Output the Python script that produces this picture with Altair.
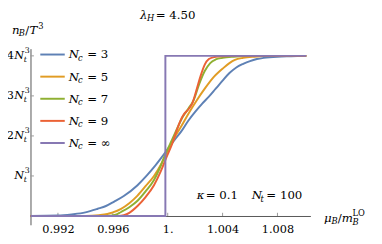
import altair as alt
import pandas as pd

# ---------------- data ----------------
x_nc3 = [0.9900, 0.9920, 0.9930, 0.9940, 0.9949, 0.9955, 0.9961, 0.9968, 0.9978, 0.9985,
         0.9990, 0.9995, 1.0000, 1.0005, 1.0010, 1.0015, 1.0020, 1.0025, 1.0030, 1.0035,
         1.0040, 1.0045, 1.0050, 1.0055, 1.0060, 1.0065, 1.0070, 1.0080, 1.0090, 1.0101]
y_nc3 = [0.00, 0.01, 0.04, 0.09, 0.18, 0.25, 0.36, 0.50, 0.77, 1.02,
         1.22, 1.44, 1.67, 1.90, 2.12, 2.38, 2.60, 2.80, 2.98, 3.18,
         3.38, 3.57, 3.71, 3.80, 3.87, 3.92, 3.95, 3.98, 3.99, 4.00]

x_nc5 = [0.9900, 0.9940, 0.9950, 0.9956, 0.9960, 0.9966, 0.9972, 0.9978, 0.9984, 0.9990,
         0.9995, 0.9999, 1.0003, 1.0006, 1.0010, 1.0015, 1.0021, 1.0027, 1.0033, 1.0040,
         1.0045, 1.0049, 1.0055, 1.0063, 1.0075, 1.0101]
y_nc5 = [0.00, 0.00, 0.02, 0.05, 0.09, 0.18, 0.32, 0.51, 0.75, 1.00,
         1.28, 1.56, 1.82, 2.02, 2.25, 2.55, 2.88, 3.18, 3.45, 3.68,
         3.82, 3.90, 3.95, 3.98, 4.00, 4.00]

x_nc7 = [0.9900, 0.9955, 0.9962, 0.9966, 0.9972, 0.9978, 0.9984, 0.9990, 0.9994, 0.9998,
         1.0002, 1.0006, 1.0011, 1.0015, 1.0019, 1.0023, 1.0027, 1.0031, 1.0035, 1.0040,
         1.0048, 1.0060, 1.0101]
y_nc7 = [0.00, 0.00, 0.03, 0.10, 0.22, 0.38, 0.62, 0.90, 1.18, 1.52,
         1.82, 2.12, 2.48, 2.68, 2.90, 3.30, 3.62, 3.82, 3.91, 3.95,
         3.98, 4.00, 4.00]

x_nc9 = [0.9900, 0.9964, 0.9968, 0.9972, 0.9978, 0.9984, 0.9990, 0.9995, 0.9999, 1.0003,
         1.0006, 1.0009, 1.0012, 1.0015, 1.0018, 1.0021, 1.0024, 1.0027, 1.0030, 1.0034,
         1.0040, 1.0050, 1.0101]
y_nc9 = [0.00, 0.00, 0.02, 0.08, 0.25, 0.48, 0.77, 1.12, 1.46, 1.78,
         2.08, 2.36, 2.55, 2.66, 2.82, 3.15, 3.50, 3.78, 3.92, 3.97,
         3.99, 4.00, 4.00]

x_inf = [0.9900, 0.99983, 0.99983, 1.0101]
y_inf = [0.0, 0.0, 4.0, 4.0]

legend_values = ["3", "5", "7", "9", "\u221e"]
colors = ["#5E81B5", "#E19C24", "#8FB032", "#EB6235", "#8778B3"]

x_ticks = [0.992, 0.996, 1.0, 1.004, 1.008]
y_ticks = [1, 2, 3, 4]
y_tick_coef = ["", "2", "3", "4"]

# ---------------- styling ----------------
FONT = "DejaVu Serif"
FS = 12
TFS = 11.5
SFS = 8.5
AX = "#555555"
TK = "#999999"

xs = alt.Scale(domain=[0.99, 1.0104], nice=False, zero=False)
ys = alt.Scale(domain=[-0.22, 4.18], nice=False, zero=False)

xaxis = alt.Axis(values=x_ticks,
                 labelExpr="datum.value == 1 ? '1.' : format(datum.value, '.3f')",
                 offset=-9, ticks=False, labelPadding=8, domainColor=AX, domainWidth=1,
                 labelFont=FONT, labelFontSize=TFS, labelColor="black", grid=False,
                 title=None, labelFlush=False, labelOverlap=False)
yaxis = alt.Axis(labels=False, ticks=False, domainColor=AX, domainWidth=1,
                 grid=False, title=None)


def series(xv, yv, color, interp):
    df = pd.DataFrame({"x": xv, "y": yv, "i": list(range(len(xv)))})
    return alt.Chart(df).mark_line(strokeWidth=2, color=color, interpolate=interp).encode(
        x=alt.X("x:Q", scale=xs, axis=xaxis),
        y=alt.Y("y:Q", scale=ys, axis=yaxis),
        order="i:Q",
    )


def txt(s, x, y, size=FS, italic=False, align="left"):
    return alt.Chart(pd.DataFrame({"t": [s]})).mark_text(
        align=align, baseline="middle", font=FONT, fontSize=size,
        fontStyle="italic" if italic else "normal", color="black"
    ).encode(x=alt.value(x), y=alt.value(y), text="t:N")


layers = []

# tick marks (inward)
xt_df = pd.DataFrame({"v": x_ticks})
layers.append(alt.Chart(xt_df).mark_rule(color=TK, strokeWidth=1).transform_calculate(
    y0="0", y1="0.08").encode(
    x=alt.X("v:Q", scale=xs, axis=xaxis),
    y=alt.Y("y0:Q", scale=ys, axis=yaxis), y2="y1:Q"))
yt_df = pd.DataFrame({"v": y_ticks, "c": y_tick_coef})
layers.append(alt.Chart(yt_df).mark_rule(color=TK, strokeWidth=1).transform_calculate(
    x0="0.99", x1="0.99025").encode(
    x=alt.X("x0:Q", scale=xs, axis=xaxis), x2="x1:Q",
    y=alt.Y("v:Q", scale=ys, axis=yaxis)))

# curves
layers.append(series(x_nc3, y_nc3, colors[0], "monotone"))
layers.append(series(x_nc5, y_nc5, colors[1], "monotone"))
layers.append(series(x_nc7, y_nc7, colors[2], "monotone"))
layers.append(series(x_nc9, y_nc9, colors[3], "monotone"))
layers.append(series(x_inf, y_inf, colors[4], "linear"))

# y tick labels  (coef + N with stacked t / 3)
base_y = alt.Chart(yt_df)
layers.append(base_y.mark_text(align="right", baseline="middle", font=FONT, fontSize=TFS,
                               color="black").encode(
    x=alt.value(-17), y=alt.Y("v:Q", scale=ys, axis=yaxis), text="c:N"))
layers.append(base_y.mark_text(align="right", baseline="middle", font=FONT, fontSize=TFS,
                               fontStyle="italic", color="black", text="N").encode(
    x=alt.value(-6.5), y=alt.Y("v:Q", scale=ys, axis=yaxis)))
layers.append(base_y.mark_text(align="left", baseline="middle", font=FONT, fontSize=8,
                               color="black", text="3", dy=-5).encode(
    x=alt.value(-6), y=alt.Y("v:Q", scale=ys, axis=yaxis)))
layers.append(base_y.mark_text(align="left", baseline="middle", font=FONT, fontSize=8,
                               fontStyle="italic", color="black", text="t", dy=4.5).encode(
    x=alt.value(-7), y=alt.Y("v:Q", scale=ys, axis=yaxis)))

# legend
leg_df = pd.DataFrame({"lab": legend_values, "i": list(range(len(legend_values)))})
leg_base = alt.Chart(leg_df).transform_calculate(yp="6 + 22.6 * datum.i")
leg_color = alt.Color("lab:N", scale=alt.Scale(domain=legend_values, range=colors), legend=None)
layers.append(leg_base.mark_rule(strokeWidth=2).encode(
    x=alt.value(10), x2=alt.value(35), y=alt.Y("yp:Q", scale=None, axis=None), color=leg_color))
layers.append(leg_base.mark_text(align="left", baseline="middle", font=FONT, fontSize=FS,
                                 fontStyle="italic", color="black", text="N").encode(
    x=alt.value(39), y=alt.Y("yp:Q", scale=None, axis=None)))
layers.append(leg_base.mark_text(align="left", baseline="middle", font=FONT, fontSize=SFS,
                                 fontStyle="italic", color="black", text="c", dy=3.5).encode(
    x=alt.value(48.5), y=alt.Y("yp:Q", scale=None, axis=None)))
layers.append(leg_base.transform_calculate(s="'= ' + datum.lab").mark_text(
    align="left", baseline="middle", font=FONT, fontSize=FS, color="black").encode(
    x=alt.value(58), y=alt.Y("yp:Q", scale=None, axis=None), text="s:N"))

# title  lambda_H = 4.50
layers += [txt("\u03bb", 112, -34.5, italic=True), txt("H", 119, -31, SFS, italic=True),
           txt("= 4.50", 128, -34.5)]
# y title  n_B / T^3
layers += [txt("n", -19, -19, italic=True), txt("B", -12, -15.5, SFS, italic=True),
           txt("/", -5.5, -19), txt("T", -1, -19, italic=True), txt("3", 8, -23, SFS)]
# x title  mu_B / m_B^LO
layers += [txt("\u03bc", 300, 173, italic=True), txt("B", 307.5, 176.5, SFS, italic=True),
           txt("/", 314, 173), txt("m", 318, 173, italic=True),
           txt("LO", 329, 168, SFS), txt("B", 329, 177, SFS, italic=True)]
# annotation  kappa = 0.1   N_t = 100
layers += [txt("\u03ba", 170, 150, italic=True), txt("= 0.1", 179, 150),
           txt("N", 226, 150, italic=True),
           txt("t", 235, 153.5, SFS, italic=True), txt("= 100", 241, 150)]

chart = alt.layer(*layers).properties(
    width=286, height=180,
    padding={"left": 23, "top": 39, "right": 65, "bottom": 14},
    autosize=alt.AutoSizeParams(type="none"),
    background="white",
).configure_view(stroke=None)

chart.save("out.html", embed_options={"renderer": "svg", "actions": False})
